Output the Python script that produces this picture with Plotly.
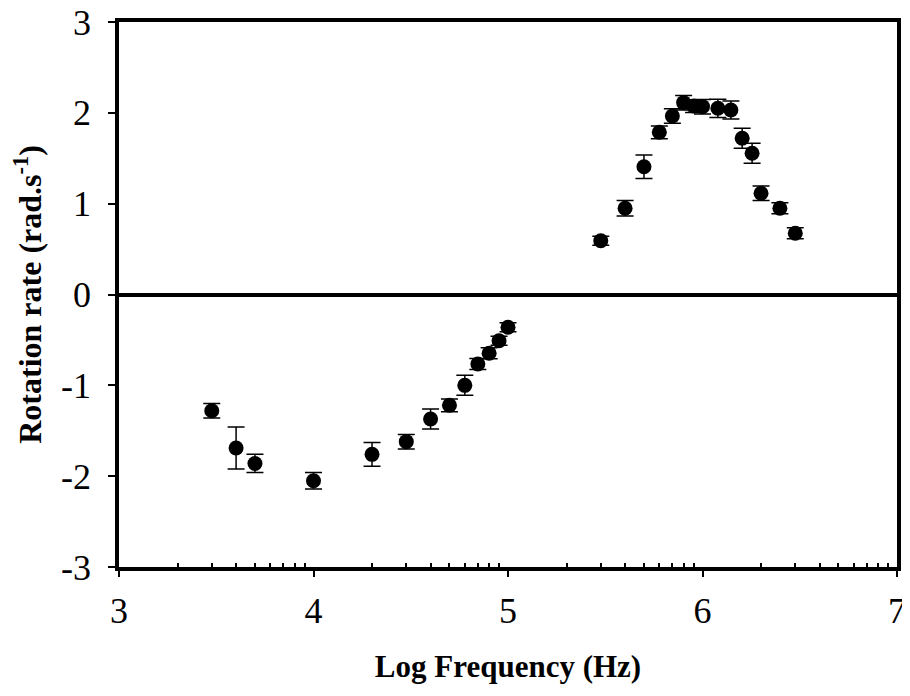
import numpy as np
import plotly.graph_objects as go

# Data
log_freq = [3.477, 3.602, 3.699, 4.000, 4.301, 4.477, 4.602, 4.699, 4.778, 4.845,
            4.903, 4.954, 5.000, 5.477, 5.602, 5.699, 5.778, 5.845, 5.903, 5.954,
            6.000, 6.079, 6.146, 6.204, 6.255, 6.301, 6.398, 6.477]
rotation_rate = [-1.28, -1.69, -1.86, -2.05, -1.76, -1.62, -1.37, -1.22, -1.00, -0.765,
                 -0.647, -0.509, -0.361, 0.592, 0.949, 1.407, 1.786, 1.965, 2.112, 2.075,
                 2.068, 2.050, 2.031, 1.720, 1.555, 1.114, 0.949, 0.674]
rate_error = [0.08, 0.23, 0.10, 0.09, 0.13, 0.08, 0.11, 0.07, 0.11, 0.06,
              0.06, 0.05, 0.05, 0.05, 0.085, 0.13, 0.07, 0.08, 0.08, 0.07,
              0.08, 0.10, 0.10, 0.11, 0.11, 0.08, 0.06, 0.06]

x_ticks = [3, 4, 5, 6, 7]
y_ticks = [-3, -2, -1, 0, 1, 2, 3]
# logarithmic minor ticks (2..9 within each decade)
minor_ticks = [d + np.log10(k) for d in range(3, 7) for k in range(2, 10)]

font_family = "Liberation Serif"

fig = go.Figure()
fig.add_trace(go.Scatter(
    x=log_freq, y=rotation_rate, mode="markers",
    marker=dict(symbol="circle", size=15, color="black"),
    error_y=dict(type="data", array=rate_error, color="black", thickness=1.5, width=8.5),
    showlegend=False,
))

# the page body has an 8px margin, so the figure is sized to fit inside the window
fig.update_layout(
    width=902, height=688,
    margin=dict(l=111, r=13, t=14, b=129),
    paper_bgcolor="white", plot_bgcolor="white",
    font=dict(family=font_family, color="black"),
    xaxis=dict(
        range=[3, 7], tickvals=x_ticks, ticktext=[str(v) for v in x_ticks],
        ticks="outside", ticklen=6, tickwidth=1.5, tickcolor="black",
        tickfont=dict(size=36, family=font_family, color="black"),
        ticklabelstandoff=3, ticklabeloverflow="allow",
        showline=True, linewidth=3.5, linecolor="black", mirror=True,
        showgrid=False, zeroline=False, automargin=False,
        minor=dict(tickvals=minor_ticks, ticks="inside", ticklen=4, tickwidth=2,
                   tickcolor="black", showgrid=False),
        title=dict(text="<b>Log Frequency (Hz)</b>", standoff=26,
                   font=dict(size=31, family=font_family, color="black")),
    ),
    yaxis=dict(
        range=[-3, 3], tickvals=y_ticks, ticktext=[str(v) for v in y_ticks],
        ticks="outside", ticklen=7, tickwidth=1.5, tickcolor="black",
        tickfont=dict(size=36, family=font_family, color="black"),
        ticklabelstandoff=10, ticklabeloverflow="allow",
        showline=True, linewidth=3.5, linecolor="black", mirror=True,
        showgrid=False, automargin=False,
        zeroline=True, zerolinewidth=3.5, zerolinecolor="black",
        title=dict(text="<b>Rotation rate (rad.s<sup>-1</sup>)</b>", standoff=12,
                   font=dict(size=32, family=font_family, color="black")),
    ),
)

fig.write_html("out.html")
